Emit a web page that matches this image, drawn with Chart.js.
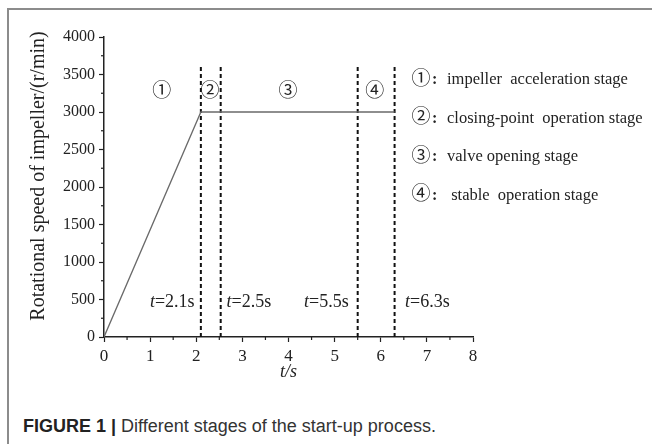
<!DOCTYPE html>
<html>
<head>
<meta charset="utf-8">
<script src="https://cdn.jsdelivr.net/npm/chart.js@4/dist/chart.umd.min.js"></script>
<style>
body { margin: 0; width: 652px; height: 444px; overflow: hidden; background: #fff; position: relative; }
#frame { position: absolute; left: 7px; top: 8px; width: 680px; height: 470px; border: 2px solid #8c8c8c; }
#wrap { position: absolute; left: 0; top: 0; width: 652px; height: 390px; }
#caption { position: absolute; left: 23px; top: 416px; font-family: "Liberation Sans", Arial, sans-serif; font-size: 18px; color: #333; white-space: nowrap; }
#caption b { color: #222; }
</style>
</head>
<body>
<div id="frame"></div>
<div id="wrap"><canvas id="speedChart"></canvas></div>
<div id="caption"><b>FIGURE 1 |</b> Different stages of the start-up process.</div>
<script>
// speed curve
const timeS = [0, 2.1, 6.3];
const speedRpm = [0, 3000, 3000];

// stage boundaries (dashed lines)
const boundTimes = [2.1, 2.53, 5.5, 6.3];
const boundTop = 3600;
const boundLabels = ["=2.1s", "=2.5s", "=5.5s", "=6.3s"];
const boundLabelX = [1.48, 3.14, 4.82, 7.01];
const boundLabelY = 467;

// stage numbers
const stageMarks = ["①", "②", "③", "④"];
const stageMarkX = [1.25, 2.3, 3.99, 5.87];
const stageMarkY = 3260;

// legend on the right
const stageNames = [
    "impeller  acceleration stage",
    "closing-point  operation stage",
    "valve opening stage",
    " stable  operation stage"
];

const yTitle = "Rotational speed of impeller/(r/min)";
const xTitle = "t/s";

const serif = '"Liberation Serif", "Times New Roman", "Noto Sans CJK SC", serif';
const ink = "#222";

const datasets = [{
    data: timeS.map((t, i) => ({ x: t, y: speedRpm[i] })),
    borderColor: "#6a6a6a",
    borderWidth: 1.3,
    pointRadius: 0
}];
boundTimes.forEach(t => {
    datasets.push({
        data: [{ x: t, y: 0 }, { x: t, y: boundTop }],
        borderColor: "#111",
        borderWidth: 2,
        borderDash: [4, 3],
        pointRadius: 0
    });
});

// minor ticks + text annotations
const annotate = {
    id: "annotate",
    afterDraw(chart) {
        const c = chart.ctx;
        const xs = chart.scales.x, ys = chart.scales.y;
        const area = chart.chartArea;
        c.save();
        c.strokeStyle = ink;
        c.lineWidth = 1.2;
        for (let v = 250; v < 4000; v += 500) {
            const py = ys.getPixelForValue(v);
            c.beginPath(); c.moveTo(area.left - 3, py); c.lineTo(area.left, py); c.stroke();
        }
        for (let v = 0.5; v < 8; v += 1) {
            const px = xs.getPixelForValue(v);
            c.beginPath(); c.moveTo(px, area.bottom); c.lineTo(px, area.bottom + 3); c.stroke();
        }

        c.fillStyle = ink;
        c.textBaseline = "middle";

        // stage numbers
        c.textAlign = "center";
        c.font = "19px " + serif;
        stageMarks.forEach((m, i) => {
            c.fillText(m, xs.getPixelForValue(stageMarkX[i]), ys.getPixelForValue(stageMarkY));
        });

        // t=... labels
        boundLabels.forEach((s, i) => {
            c.font = "italic 18px " + serif;
            const w1 = c.measureText("t").width;
            c.font = "18px " + serif;
            const w2 = c.measureText(s).width;
            const cx = xs.getPixelForValue(boundLabelX[i]);
            const py = ys.getPixelForValue(boundLabelY);
            const x0 = cx - (w1 + w2) / 2;
            c.textAlign = "left";
            c.font = "italic 18px " + serif;
            c.fillText("t", x0, py);
            c.font = "18px " + serif;
            c.fillText(s, x0 + w1, py);
        });

        // legend text
        stageNames.forEach((s, i) => {
            const py = area.top + 43 + i * 38.5;
            c.textAlign = "center";
            c.font = "19px " + serif;
            c.fillText(stageMarks[i], area.right - 52, py);
            c.textAlign = "left";
            c.font = "bold 16px " + serif;
            c.fillText(":", area.right - 41, py);
            c.font = "16.5px " + serif;
            c.fillText(s, area.right - 26, py);
        });

        // y title
        c.translate(39, 176);
        c.rotate(-Math.PI / 2);
        c.textAlign = "center";
        c.font = "20px " + serif;
        c.fillText(yTitle, 0, 0);
        c.restore();
    }
};

new Chart(document.getElementById("speedChart").getContext("2d"), {
    type: "line",
    data: { datasets: datasets },
    options: {
        responsive: true,
        maintainAspectRatio: false,
        animation: false,
        layout: { padding: { top: 37, right: 179, left: 0, bottom: 0 } },
        plugins: { legend: { display: false }, tooltip: { enabled: false } },
        scales: {
            x: {
                type: "linear",
                min: 0,
                max: 8,
                afterFit: s => { s.height = 53; },
                ticks: { stepSize: 1, color: ink, padding: 4, font: { family: serif, size: 17 } },
                grid: { drawOnChartArea: false, tickLength: 5, color: ink, tickWidth: 1.2 },
                border: { color: ink, width: 1.5 },
                title: { display: true, text: xTitle, color: ink, padding: { top: 0, bottom: 7 }, font: { family: serif, size: 18, style: "italic" } }
            },
            y: {
                min: 0,
                max: 4000,
                afterFit: s => { s.width = 104; },
                ticks: { stepSize: 500, color: ink, padding: 4, font: { family: serif, size: 16 }, callback: v => String(v) },
                grid: { drawOnChartArea: false, tickLength: 5, color: ink, tickWidth: 1.2 },
                border: { color: ink, width: 1.5 }
            }
        }
    },
    plugins: [annotate]
});
</script>
</body>
</html>
